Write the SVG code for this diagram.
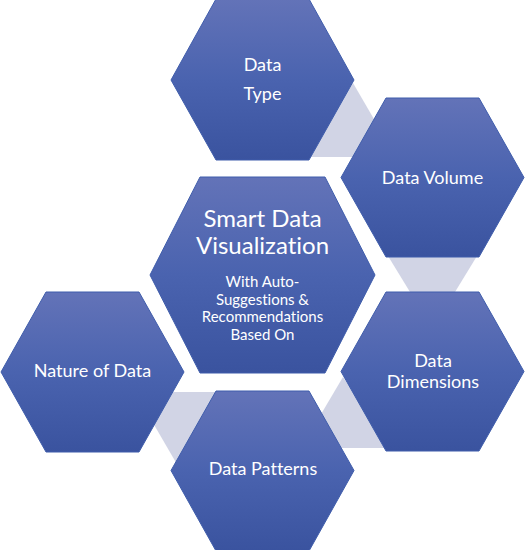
<svg xmlns="http://www.w3.org/2000/svg" width="525" height="550" viewBox="0 0 525 550">
  <defs>
    <linearGradient id="hexFill" x1="0" y1="0" x2="0" y2="1">
      <stop offset="0" stop-color="#6373B8"/>
      <stop offset="0.5" stop-color="#4A63AF"/>
      <stop offset="1" stop-color="#3A539F"/>
    </linearGradient>
  </defs>
  <style>
    .hex { fill: url(#hexFill); stroke: #3F5DAB; stroke-width: 1; }
    .conn { fill: #D1D4E5; stroke: none; }
    .lbl { fill: #FFFFFF; font-family: Lato, "Open Sans", "Liberation Sans", sans-serif; text-anchor: middle; font-variant-ligatures: none; font-feature-settings: "liga" 0; }
    .s18 { font-size: 18px; }
    .s24 { font-size: 24px; }
    .s15 { font-size: 15px; }
  </style>
  <g id="connectors">
    <polygon class="conn" points="353,83 396,157 300,157"/>
    <polygon class="conn" points="388,256 477,256 455,292 410,292"/>
    <polygon class="conn" points="343,377 301,448 392,448"/>
    <polygon class="conn" points="135,392 225,392 200,466 178,466"/>
  </g>
  <g id="data-type">
    <polygon class="hex" points="216,-1 309,-1 354,80 309,160 216,160 171,80"/>
    <text class="lbl s18" x="262.5" y="71">Data</text>
    <text class="lbl s18" x="262.5" y="100">Type</text>
  </g>
  <g id="data-volume">
    <polygon class="hex" points="386,98 479,98 524,177.5 479,257 386,257 341,177.5"/>
    <text class="lbl s18" x="432.5" y="184">Data Volume</text>
  </g>
  <g id="data-dimensions">
    <polygon class="hex" points="386,292 479,292 524,371.5 479,451 386,451 341,371.5"/>
    <text class="lbl s18" x="433" y="367">Data</text>
    <text class="lbl s18" x="433" y="388">Dimensions</text>
  </g>
  <g id="data-patterns">
    <polygon class="hex" points="216,391 309,391 354,470.5 309,551 216,551 171,470.5"/>
    <text class="lbl s18" x="263" y="475">Data Patterns</text>
  </g>
  <g id="nature-of-data">
    <polygon class="hex" points="46,292 139,292 184,372 139,452 46,452 1,372"/>
    <text class="lbl s18" x="92.5" y="377">Nature of Data</text>
  </g>
  <g id="smart-data-visualization">
    <polygon class="hex" points="200,177 325,177 375,275 325,373 200,373 150,275"/>
    <text class="lbl s24" x="262.5" y="227">Smart Data</text>
    <text class="lbl s24" x="262.5" y="254">Visualization</text>
    <text class="lbl s15" x="262.5" y="287">With Auto-</text>
    <text class="lbl s15" x="262.5" y="304.5">Suggestions &amp;</text>
    <text class="lbl s15" x="262.5" y="322">Recommendations</text>
    <text class="lbl s15" x="262.5" y="339.5">Based On</text>
  </g>
</svg>
